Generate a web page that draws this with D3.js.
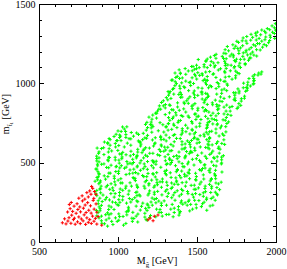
<!DOCTYPE html>
<html>
<head>
<meta charset="utf-8">
<script src="https://cdn.jsdelivr.net/npm/d3@7"></script>
<style>
  html, body { margin: 0; padding: 0; background: #fff; }
  svg { display: block; }
  text { font-family: 'Liberation Serif', 'DejaVu Serif', serif; fill: #000; }
</style>
</head>
<body>
<svg id="chart" width="287" height="269"></svg>
<script>
let xTicks = [500, 1000, 1500, 2000]
let yTicks = [0, 500, 1000, 1500]

// points, [M_gluino, m_stop1] in GeV
let greenPoints = [
  [934,100],[968,110],
  [898,118],[960,130],[1050,117],[1091,130],
  [895,134],[943,150],[1005,137],[1088,150],[1178,141],
  [895,163],[943,172],[984,152],[1032,161],[1115,163],[1170,157],[1239,159],[1280,163],[1349,159],
  [874,185],[922,172],[1005,177],[1053,190],[1094,187],[1170,181],[1260,187],[1322,174],[1356,186],[1390,183],
  [886,197],[941,205],[975,205],[1065,197],[1141,201],[1175,212],[1244,207],[1334,207],[1382,203],[1472,207],[1562,200],
  [881,221],[943,227],[1004,232],[1066,219],[1149,225],[1190,232],[1217,232],[1307,232],[1383,223],[1438,232],[1528,223],[1583,227],
  [875,241],[965,252],[1012,250],[1054,245],[1081,252],[1157,245],[1240,247],[1274,245],[1343,237],[1398,247],[1425,247],[1494,237],[1535,241],
  [900,255],[919,267],[946,265],[1029,265],[1119,259],[1209,252],[1292,259],[1361,263],[1402,259],[1485,263],[1512,261],[1560,267],[1615,263],
  [866,292],[928,281],[976,283],[1031,287],[1072,274],[1106,279],[1140,290],[1216,277],[1243,274],[1312,287],[1388,290],[1478,283],[1561,277],[1602,283],
  [890,310],[955,305],[982,305],[1065,301],[1134,297],[1196,307],[1230,301],[1278,297],[1319,307],[1402,301],[1443,305],[1491,305],[1518,299],[1587,312],
  [866,325],[948,332],[970,324],[1070,322],[1113,312],[1200,322],[1251,319],[1300,320],[1375,323],[1402,332],[1492,332],[1554,317],[1616,314],[1643,330],
  [884,334],[925,347],[966,341],[1014,334],[1048,339],[1124,343],[1165,352],[1227,345],[1275,345],[1337,337],[1427,352],[1482,332],[1509,341],[1592,339],[1626,343],
  [879,367],[934,357],[1017,372],[1051,352],[1085,352],[1119,359],[1195,359],[1250,361],[1312,357],[1339,372],[1380,363],[1463,357],[1518,365],[1552,352],[1579,363],[1620,372],
  [855,383],[889,385],[979,379],[1027,372],[1110,387],[1172,379],[1213,390],[1247,374],[1281,379],[1308,377],[1370,379],[1432,377],[1494,390],[1584,385],[1653,377],
  [867,407],[936,412],[977,401],[1018,399],[1108,401],[1163,412],[1246,392],[1336,407],[1398,405],[1453,399],[1543,397],[1591,399],[1618,399],
  [879,430],[913,417],[1003,432],[1072,430],[1127,430],[1182,412],[1223,427],[1306,423],[1389,419],[1423,414],[1450,432],[1540,423],[1616,417],
  [873,443],[942,434],[1004,446],[1094,434],[1142,452],[1190,432],[1245,437],[1300,431],[1369,443],[1403,447],[1444,439],[1527,450],[1582,439],[1658,441],
  [860,460],[928,470],[1011,467],[1052,472],[1100,459],[1160,462],[1224,467],[1307,452],[1376,457],[1452,454],[1535,463],[1583,461],[1617,452],
  [870,490],[911,492],[987,474],[1021,481],[1062,492],[1089,492],[1123,479],[1213,481],[1240,490],[1330,490],[1364,481],[1419,474],[1481,485],[1550,487],[1605,483],
  [880,505],[939,512],[1008,497],[1098,501],[1139,498],[1187,507],[1242,509],[1311,494],[1338,501],[1386,505],[1441,492],[1524,503],[1593,505],[1627,510],[1654,492],
  [880,530],[935,517],[983,517],[1024,525],[1093,521],[1162,530],[1217,512],[1300,512],[1341,514],[1375,525],[1423,530],[1471,521],[1561,527],[1609,527],
  [865,541],[941,534],[982,534],[1051,550],[1078,543],[1119,539],[1174,547],[1264,545],[1298,537],[1353,539],[1387,538],[1428,543],[1504,546],[1552,540],[1628,537],[1667,544],
  [877,559],[939,567],[1022,554],[1098,552],[1125,567],[1152,563],[1221,559],[1290,572],[1317,552],[1386,567],[1434,570],[1468,565],[1530,561],[1592,561],
  [868,592],[944,588],[999,577],[1082,572],[1165,585],[1199,592],[1261,583],[1302,580],[1329,574],[1419,587],[1460,572],[1487,577],[1577,587],[1646,585],
  [909,594],[950,610],[1040,599],[1081,610],[1143,605],[1225,605],[1315,597],[1349,605],[1425,594],[1459,599],[1521,599],[1569,594],[1638,599],
  [914,630],[983,621],[1059,623],[1142,630],[1232,619],[1273,612],[1335,615],[1425,618],[1452,627],[1500,623],[1569,617],[1596,612],[1623,621],[1657,621],
  [944,652],[992,639],[1019,639],[1081,650],[1129,637],[1156,645],[1218,643],[1273,645],[1356,632],[1439,637],[1480,652],[1507,647],[1562,645],[1631,632],
  [975,665],[1016,667],[1050,659],[1098,667],[1181,654],[1236,657],[1270,659],[1325,657],[1394,652],[1484,660],[1546,667],[1580,652],[1670,672],
  [988,679],[1050,677],[1084,690],[1118,687],[1187,672],[1214,692],[1304,674],[1359,677],[1407,687],[1455,681],[1482,681],[1544,679],[1620,687],[1661,681],
  [1000,700],[1048,697],[1179,705],[1255,701],[1317,705],[1407,701],[1469,710],[1559,692],[1593,698],[1683,694],
  [1029,725],[1056,726],[1187,721],[1221,727],[1304,724],[1373,721],[1407,714],[1441,718],[1517,730],[1565,723],[1648,719],[1682,727],
  [1174,741],[1215,737],[1284,739],[1318,745],[1352,743],[1428,736],[1518,748],[1566,737],[1600,744],[1627,739],[1689,747],
  [1183,754],[1266,752],[1328,767],[1383,763],[1466,759],[1493,772],[1569,752],[1624,767],[1679,767],
  [1196,787],[1244,781],[1320,784],[1410,792],[1500,789],[1569,777],[1610,772],[1686,785],
  [1237,812],[1299,803],[1368,800],[1444,794],[1492,807],[1554,792],[1588,797],[1671,807],
  [1250,825],[1326,814],[1388,830],[1429,819],[1505,830],[1546,825],[1601,812],[1684,825],
  [1258,837],[1299,845],[1340,834],[1416,839],[1506,843],[1554,834],[1637,839],[1671,850],[1754,841],
  [1262,858],[1300,866],[1330,861],[1420,872],[1475,863],[1565,867],[1599,865],[1640,859],[1688,863],[1722,854],[1777,861],
  [1287,890],[1377,877],[1418,881],[1487,872],[1549,890],[1597,877],[1659,885],[1742,892],
  [1306,910],[1396,912],[1444,903],[1485,910],[1533,901],[1616,894],[1671,905],[1740,907],[1781,903],
  [1320,925],[1353,932],[1401,930],[1484,927],[1532,932],[1573,919],[1649,914],[1739,925],[1801,919],
  [1330,948],[1394,943],[1477,939],[1532,945],[1566,932],[1656,937],[1732,941],[1766,939],[1808,950],
  [1345,963],[1393,967],[1483,952],[1573,972],[1621,967],[1688,954],[1759,965],[1793,972],[1820,970],
  [1360,985],[1390,983],[1417,979],[1507,972],[1583,985],[1638,979],[1693,988],[1838,983],
  [1362,1010],[1403,1003],[1451,1005],[1478,999],[1554,1003],[1637,997],[1671,1012],[1795,1001],[1822,1007],[1860,998],
  [1346,1021],[1429,1014],[1498,1027],[1539,1017],[1566,1019],[1649,1021],[1722,1026],[1829,1030],[1862,1018],
  [1366,1037],[1407,1034],[1490,1047],[1517,1050],[1565,1043],[1620,1037],[1703,1043],[1744,1034],[1854,1045],[1886,1052],
  [1361,1065],[1395,1061],[1429,1057],[1505,1067],[1532,1061],[1601,1057],[1677,1067],[1767,1061],[1891,1065],
  [1387,1085],[1470,1079],[1497,1092],[1580,1074],[1649,1092],[1711,1079],[1745,1077],[1910,1072],
  [1466,1106],[1514,1099],[1545,1104],[1610,1103],[1679,1112],[1738,1106],[1775,1100],
  [1497,1114],[1585,1114],[1633,1130],[1716,1114],[1771,1127],[1805,1118],
  [1508,1150],[1558,1141],[1590,1138],[1675,1139],[1737,1143],[1799,1152],[1826,1145],
  [1585,1165],[1668,1157],[1709,1172],[1750,1152],[1790,1170],[1832,1159],
  [1621,1183],[1683,1187],[1731,1177],[1793,1192],[1840,1185],[1878,1172],
  [1700,1205],[1765,1205],[1811,1208],[1852,1197],
  [1692,1232],[1735,1220],[1775,1223],[1843,1225],[1877,1212],[1915,1228],
  [1727,1243],[1789,1237],[1816,1252],[1857,1243],[1895,1250],[1940,1237],
  [1752,1265],[1786,1268],[1840,1272],[1910,1266],[1960,1270],
  [1792,1286],[1852,1290],[1893,1283],[1935,1292],[1992,1283],
  [1842,1309],[1903,1306],[1962,1303],
  [1882,1323],[1928,1328],[1978,1322],[1997,1335],
  [1945,1345],[1990,1350],
  [1975,1362],[1996,1376],
  // second pass, in between the rows above
  [915,115],[1035,106],
  [925,139],[995,130],[1125,126],[1185,137],
  [880,152],[1010,160],[1100,148],[1200,154],
  [866,165],[956,178],[1056,171],[1126,176],[1206,167],[1306,173],[1386,169],
  [864,199],[934,184],[1064,194],[1184,198],[1274,186],[1394,192],[1454,196],
  [887,210],[957,220],[1067,208],[1196,217],[1266,205],[1356,213],[1496,215],
  [895,231],[995,235],[1115,226],[1185,239],[1275,230],[1410,238],[1460,237],[1600,232],
  [875,260],[985,248],[1125,254],[1258,258],[1445,256],[1545,251],
  [885,276],[1005,267],[1090,268],[1230,269],[1340,279],[1450,264],[1590,274],
  [905,296],[1010,292],[1120,292],[1190,296],[1350,296],[1470,300],[1540,288],[1630,297],
  [860,305],[1010,312],[1120,315],[1230,314],[1360,312],[1440,318],[1540,310],[1625,303],
  [890,335],[1030,326],[1170,339],[1310,330],[1410,324],[1550,337],
  [893,352],[983,360],[1123,348],[1233,354],[1343,345],[1483,358],[1593,351],
  [886,376],[956,367],[1076,373],[1196,369],[1266,379],[1356,364],[1406,374],[1526,378],[1636,366],
  [871,392],[921,396],[1001,390],[1101,400],[1181,388],[1281,397],[1371,385],[1491,393],[1591,395],
  [876,411],[976,415],[1096,406],[1156,419],[1236,410],[1366,404],[1436,417],[1496,412],[1616,420],
  [881,428],[951,434],[1051,425],[1111,438],[1221,431],[1331,436],[1421,427],[1491,433],[1611,429],
  [866,459],[986,444],[1076,454],[1186,458],[1296,446],[1376,452],[1516,456],[1576,450],
  [871,480],[941,468],[991,477],[1041,465],[1121,473],[1171,475],[1271,471],[1411,475],[1551,466],[1621,479],
  [896,490],[956,484],[1076,497],[1166,492],[1226,500],[1306,488],[1406,494],[1546,485],[1656,498],
  [866,511],[1006,516],[1056,507],[1146,513],[1226,509],[1326,519],[1446,504],[1516,514],[1656,518],
  [866,526],[946,532],[1026,536],[1116,530],[1186,540],[1326,528],[1426,537],[1496,525],[1606,533],[1656,535],
  [911,551],[1011,555],[1121,546],[1201,559],[1251,550],[1371,544],[1451,557],[1581,552],[1641,560],
  [880,568],[960,574],[1030,565],[1160,578],[1270,571],[1340,576],[1460,567],[1600,573],
  [895,589],[985,599],[1125,584],[1175,594],[1295,598],[1405,586],[1485,592],[1555,596],[1635,590],
  [935,620],[1005,608],[1145,617],[1275,605],[1405,613],[1455,615],[1575,611],[1675,615],
  [935,626],[995,639],[1135,630],[1235,624],[1305,637],[1405,632],[1465,640],[1515,628],[1575,634],
  [950,645],[1010,658],[1070,651],[1170,656],[1290,647],[1370,653],[1500,649],[1580,659],[1670,644],
  [1010,674],[1130,678],[1270,666],[1350,672],[1400,676],[1520,670],[1570,680],[1640,668],
  [1020,697],[1160,685],[1290,693],[1430,695],[1490,691],[1580,695],
  [1040,712],[1210,719],[1340,710],[1470,704],[1560,717],[1620,712],
  [1205,740],[1305,728],[1355,734],[1495,725],[1565,738],[1655,731],
  [1210,756],[1320,747],[1380,753],[1470,749],[1580,759],[1630,744],[1700,757],
  [1215,774],[1345,778],[1395,766],[1525,772],[1595,776],[1665,770],
  [1220,800],[1350,788],[1400,797],[1450,785],[1510,793],[1620,795],[1715,798],
  [1245,811],[1365,815],[1485,806],[1575,819],[1635,810],[1695,804],
  [1270,837],[1350,832],[1470,840],[1560,828],[1630,834],[1710,825],
  [1287,858],[1377,851],[1467,856],[1537,847],[1627,853],[1707,849],[1760,850],
  [1275,879],[1325,864],[1445,874],[1545,878],[1625,866],[1765,872],
  [1315,896],[1435,890],[1555,900],[1645,888],[1735,897],[1780,888],
  [1335,905],[1405,913],[1455,915],[1565,911],[1705,915],[1800,906],
  [1325,939],[1385,930],[1505,924],[1555,937],[1625,932],[1745,940],
  [1317,948],[1447,954],[1527,945],[1657,958],[1767,951],[1817,956],
  [1352,967],[1422,973],[1532,969],[1592,979],[1672,964],[1812,974],
  [1370,998],[1460,986],[1560,992],[1690,996],[1820,990],[1855,995],
  [1338,1020],[1458,1008],[1558,1017],[1628,1005],[1678,1013],[1858,1015],
  [1389,1031],[1469,1035],[1549,1026],[1679,1039],[1859,1030],
  [1375,1044],[1485,1057],[1535,1052],[1605,1060],[1745,1048],[1865,1054],
  [1395,1065],[1445,1078],[1555,1071],[1675,1076],[1755,1067],[1905,1058],
  [1425,1093],[1485,1089],[1565,1099],[1635,1084],[1685,1094],[1735,1098],
  [1475,1106],[1545,1118],[1615,1112],[1695,1116],[1765,1110],
  [1555,1140],[1605,1128],[1680,1126],[1745,1137],[1805,1125],
  [1565,1153],[1620,1158],[1685,1155],[1775,1151],[1840,1160],
  [1610,1175],[1660,1170],[1730,1166],[1820,1179],[1860,1178],
  [1670,1190],[1720,1184],[1765,1188],[1810,1197],
  [1678,1212],[1758,1220],[1830,1215],[1900,1210],
  [1745,1234],[1870,1236],[1925,1245],
  [1763,1258],[1883,1251],[1953,1256],
  [1810,1267],[1875,1273],[1930,1275],
  [1815,1295],[1875,1300],[1965,1290],
  [1870,1316],[1935,1318],[1990,1314],
  [1910,1336],[1960,1338]
]

let redPoints = [
  [648,121],[671,114],[683,132],[702,118],[718,141],[729,112],[744,127],[761,116],[779,133],[795,111],[812,124],[831,117],[848,131],[866,113],[897,106],
  [662,146],[690,153],[707,169],[724,150],[752,158],[768,145],[786,171],[803,152],[821,141],[839,163],[857,149],[874,160],
  [681,189],[697,210],[713,193],[735,181],[746,205],[763,190],[781,213],[798,186],[815,200],[830,182],[849,207],[866,188],
  [692,236],[704,249],[722,226],[741,241],[758,221],[775,259],[792,233],[808,248],[826,228],[843,262],[861,240],
  [752,276],[773,291],[790,270],[812,284],[829,301],[847,275],[860,300],
  [803,311],[821,322],[840,338],[851,318],[833,350],
  [1190,140],[1203,150],[1222,134],[1230,162],[1253,170]
]

let svg = d3.select('#chart')
let x = d3.scaleLinear().domain([500, 2000]).range([39, 276])
let y = d3.scaleLinear().domain([0, 1500]).range([242, 4])

let minorX = d3.range(500, 2001, 100).filter(v => v % 500 !== 0)
let minorY = d3.range(0, 1501, 100).filter(v => v % 500 !== 0)

// small "+" marker, like the xmgrace plus symbol
let plus = 'M-1.6,0H1.6M0,-1.6V1.6'

let drawPoints = (data, color) => {
  svg.append('g')
    .selectAll('path')
    .data(data)
    .join('path')
      .attr('d', plus)
      .attr('transform', d => `translate(${x(d[0])},${y(d[1])})`)
      .attr('stroke', color)
      .attr('stroke-width', 1)
      .attr('fill', 'none')
}

drawPoints(greenPoints, '#00ff00')
drawPoints(redPoints, '#ff0000')

// ticks point inward on all four sides, labels only bottom/left
let addAxis = (axis, values, size, translate, padding) => {
  let g = svg.append('g')
    .attr('transform', `translate(${translate})`)
    .call(axis
      .tickValues(values)
      .tickSizeInner(-size)
      .tickSizeOuter(0)
      .tickPadding(padding || 0)
      .tickFormat(padding ? d3.format('d') : ''))
  g.attr('font-family', null).attr('font-size', null)
  g.select('.domain').remove()
  g.selectAll('.tick line')
    .attr('stroke', '#000')
    .attr('shape-rendering', 'crispEdges')
  g.selectAll('.tick text').attr('font-size', '10px')
  return g
}

addAxis(d3.axisBottom(x), xTicks, 5, [0, 242], 5.5)
addAxis(d3.axisBottom(x), minorX, 3, [0, 242])
addAxis(d3.axisTop(x), xTicks, 5, [0, 4])
addAxis(d3.axisTop(x), minorX, 3, [0, 4])
addAxis(d3.axisLeft(y), yTicks, 5, [39, 0], 3.5)
  .selectAll('.tick text').attr('x', -3.5)
addAxis(d3.axisLeft(y), minorY, 3, [39, 0])
addAxis(d3.axisRight(y), yTicks, 5, [276, 0])
addAxis(d3.axisRight(y), minorY, 3, [276, 0])

svg.append('rect')
    .attr('x', x.range()[0])
    .attr('y', y.range()[1])
    .attr('width', x.range()[1] - x.range()[0])
    .attr('height', y.range()[0] - y.range()[1])
    .attr('fill', 'none')
    .attr('stroke', '#000')
    .attr('shape-rendering', 'crispEdges')

let xLabel = svg.append('text')
    .attr('x', 157)
    .attr('y', 264)
    .attr('text-anchor', 'middle')
    .attr('font-size', '10px')
xLabel.append('tspan').text('M')
xLabel.append('tspan').attr('font-size', '7px').attr('dy', 2.5).text('g̃')
xLabel.append('tspan').attr('dy', -2.5).text('  [GeV]')

let yLabel = svg.append('text')
    .attr('transform', 'translate(9,114) rotate(-90)')
    .attr('text-anchor', 'middle')
    .attr('font-size', '10px')
yLabel.append('tspan').text('m')
yLabel.append('tspan').attr('font-size', '7px').attr('dy', 2.5).text('t̃')
yLabel.append('tspan').attr('font-size', '5px').attr('dy', 1.5).text('1')
yLabel.append('tspan').attr('dy', -4).text('  [GeV]')
</script>
</body>
</html>
